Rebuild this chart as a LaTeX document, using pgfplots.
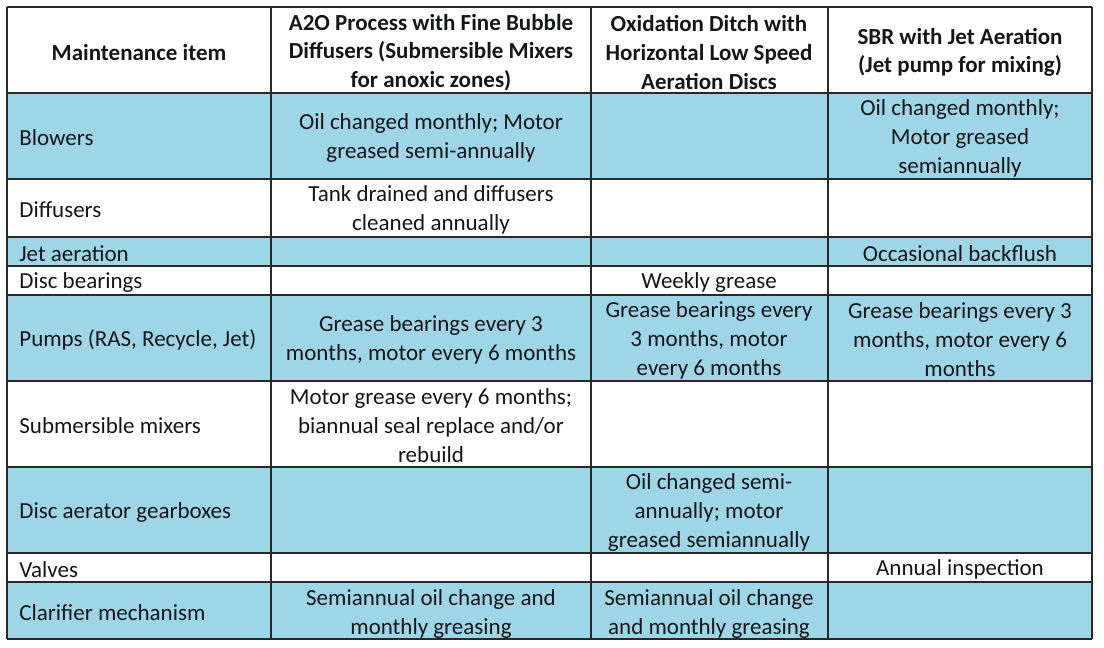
\documentclass[border=0pt]{standalone}
\usepackage{pgfplots}
\pgfplotsset{compat=1.18}
\usepackage{fontspec}
\setmainfont{Carlito}
\definecolor{rowblue}{RGB}{158,214,232}
\definecolor{gridc}{RGB}{40,40,40}
\definecolor{txt}{RGB}{20,22,26}
\tikzset{
  cell/.style={font=\fontsize{11.5}{14.5}\selectfont, text=txt, inner sep=0pt, yshift=-1pt},
  hcell/.style={font=\fontsize{11.5}{14.3}\selectfont\bfseries, text=txt, inner sep=0pt, yshift=-1.2pt},
}
\begin{document}
\begin{tikzpicture}
\begin{axis}[
  width=552pt, height=324pt, scale only axis,
  xmin=0, xmax=1104, ymin=0, ymax=648, y dir=reverse,
  hide axis, clip=false,
]
% invisible frame to fix the bounding box
\addplot[draw=none] coordinates {(0,0) (1104,648)};
% shaded rows
\addplot[fill=rowblue, draw=none] coordinates {(7,93) (1092,93) (1092,179) (7,179)} -- cycle;
\addplot[fill=rowblue, draw=none] coordinates {(7,237) (1092,237) (1092,266) (7,266)} -- cycle;
\addplot[fill=rowblue, draw=none] coordinates {(7,295) (1092,295) (1092,381) (7,381)} -- cycle;
\addplot[fill=rowblue, draw=none] coordinates {(7,467) (1092,467) (1092,553) (7,553)} -- cycle;
\addplot[fill=rowblue, draw=none] coordinates {(7,582) (1092,582) (1092,639) (7,639)} -- cycle;
% horizontal rules
\pgfplotsinvokeforeach{7,93,179,237,266,295,381,467,553,582,639}{
  \addplot[gridc, line width=0.9pt] coordinates {(7,#1) (1092,#1)};
}
% vertical rules
\pgfplotsinvokeforeach{7,271,591,828,1092}{
  \addplot[gridc, line width=0.9pt] coordinates {(#1,7) (#1,639)};
}
% header
\node[hcell] at (139,50) {Maintenance item};
\node[hcell, align=center] at (431,50) {A2O Process with Fine Bubble\\Diffusers (Submersible Mixers\\for anoxic zones)};
\node[hcell, align=center] at (709,50) {Oxidation Ditch with\\Horizontal Low Speed\\Aeration Discs};
\node[hcell, align=center] at (960,50) {SBR with Jet Aeration\\(Jet pump for mixing)};
% first column
\node[cell, anchor=west] at (19,136) {Blowers};
\node[cell, anchor=west] at (19,208) {Diffusers};
\node[cell, anchor=west] at (19,251.5) {Jet aeration};
\node[cell, anchor=west] at (19,280.5) {Disc bearings};
\node[cell, anchor=west] at (19,338) {Pumps (RAS, Recycle, Jet)};
\node[cell, anchor=west] at (19,424) {Submersible mixers};
\node[cell, anchor=west] at (19,510) {Disc aerator gearboxes};
\node[cell, anchor=west] at (19,567.5) {Valves};
\node[cell, anchor=west] at (19,611) {Clarifier mechanism};
% A2O column
\node[cell, align=center] at (431,136) {Oil changed monthly; Motor\\greased semi-annually};
\node[cell, align=center] at (431,208) {Tank drained and diffusers\\cleaned annually};
\node[cell, align=center] at (431,338) {Grease bearings every 3\\months, motor every 6 months};
\node[cell, align=center] at (431,424) {Motor grease every 6 months;\\biannual seal replace and/or\\rebuild};
\node[cell, align=center] at (431,612) {Semiannual oil change and\\monthly greasing};
% Oxidation ditch column
\node[cell, align=center] at (709,280.5) {Weekly grease};
\node[cell, align=center] at (709,338) {Grease bearings every\\3 months, motor\\every 6 months};
\node[cell, align=center] at (709,510) {Oil changed semi-\\annually; motor\\greased semiannually};
\node[cell, align=center] at (709,612) {Semiannual oil change\\and monthly greasing};
% SBR column
\node[cell, align=center] at (960,136) {Oil changed monthly;\\Motor greased\\semiannually};
\node[cell, align=center] at (960,251.5) {Occasional backflush};
\node[cell, align=center] at (960,338) {Grease bearings every 3\\months, motor every 6\\months};
\node[cell, align=center] at (960,567.5) {Annual inspection};
\end{axis}
\end{tikzpicture}
\end{document}
